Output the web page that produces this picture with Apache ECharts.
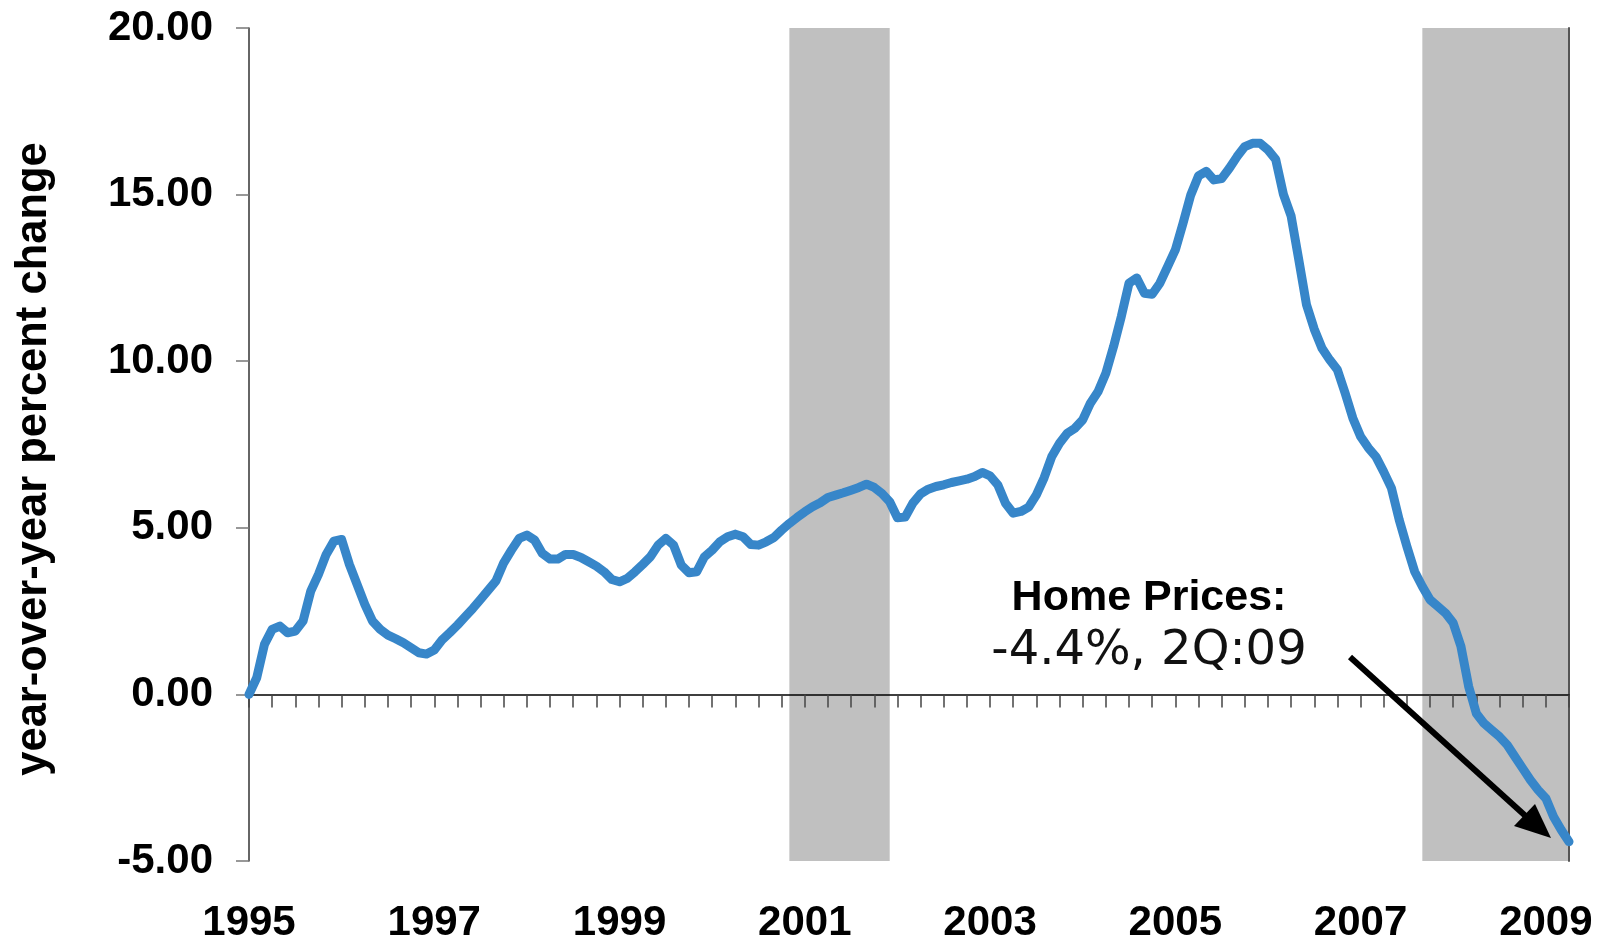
<!DOCTYPE html>
<html>
<head>
<meta charset="utf-8">
<script src="https://cdn.jsdelivr.net/npm/echarts@6/dist/echarts.min.js"></script>
<style>
  html, body { margin: 0; padding: 0; background: #fff; }
  #chart { width: 1602px; height: 946px; }
</style>
</head>
<body>
<div id="chart"></div>
<script>
// monthly, Jan 1995 .. Apr 2009
const startYear = 1995;
const hpiChange = [
  0.0, 0.5, 1.5, 1.95, 2.05, 1.85, 1.9, 2.2, 3.1, 3.6, 4.2, 4.6,
  4.65, 3.9, 3.3, 2.7, 2.2, 1.95, 1.78, 1.67, 1.55, 1.4, 1.25, 1.21,
  1.33, 1.63, 1.85, 2.08, 2.33, 2.58, 2.85, 3.13, 3.41, 3.95, 4.33, 4.68,
  4.78, 4.63, 4.23, 4.06, 4.06, 4.2, 4.2, 4.11, 3.98, 3.85, 3.68, 3.45,
  3.38, 3.48, 3.68, 3.9, 4.13, 4.48, 4.68, 4.48, 3.88, 3.65, 3.68, 4.13,
  4.33, 4.58, 4.73, 4.81, 4.73, 4.5, 4.48, 4.58, 4.71, 4.93, 5.13, 5.31,
  5.48, 5.63, 5.75, 5.91, 5.98, 6.05, 6.13, 6.21, 6.31, 6.21, 6.03, 5.78,
  5.3, 5.32, 5.74, 6.02, 6.16, 6.24, 6.29, 6.36, 6.41, 6.46, 6.54, 6.66,
  6.56, 6.29, 5.74, 5.44, 5.49, 5.62, 5.99, 6.5, 7.14, 7.54, 7.84, 7.99,
  8.24, 8.74, 9.09, 9.64, 10.44, 11.34, 12.34, 12.5, 12.04, 12.01, 12.34, 12.84,
  13.34, 14.14, 14.99, 15.56, 15.7, 15.44, 15.48, 15.79, 16.14, 16.44, 16.54, 16.54,
  16.34, 16.06, 15.01, 14.36, 13.04, 11.69, 10.96, 10.39, 10.04, 9.74, 9.04, 8.29,
  7.74, 7.4, 7.13, 6.68, 6.19, 5.24, 4.44, 3.69, 3.24, 2.84, 2.64, 2.44,
  2.14, 1.44, 0.24, -0.57, -0.87, -1.07, -1.27, -1.52, -1.87, -2.22, -2.57, -2.87,
  -3.12, -3.67, -4.07, -4.42
];
const months = [];
for (let i = 0; i < hpiChange.length; i++) {
  const y = startYear + Math.floor(i / 12);
  const m = (i % 12) + 1;
  months.push(y + '-' + (m < 10 ? '0' + m : m));
}
const recessions = [
  ['2000-11', '2001-12'],
  ['2007-09', '2009-04']
];
const yTitle = 'year-over-year percent change';
const noteTitle = 'Home Prices:';
const noteValue = '-4.4%, 2Q:09';

const chart = echarts.init(document.getElementById('chart'));

const yearLabel = {
  interval: (idx, val) => {
    const y = +val.slice(0, 4), m = val.slice(5);
    return m === '01' && (y - startYear) % 2 === 0;
  },
  formatter: (val) => val.slice(0, 4),
  color: '#000',
  fontFamily: 'Liberation Sans',
  fontWeight: 'bold',
  fontSize: 42
};

const option = {
  animation: false,
  grid: {
    left: 249, right: 33, top: 28, bottom: 85,
    containLabel: false,
    outerBoundsMode: 'none'
  },
  xAxis: [
    {
      // zero line with quarterly ticks, drawn over the shaded bands
      type: 'category',
      data: months,
      boundaryGap: false,
      z: 2,
      axisLine: { onZero: true, lineStyle: { color: '#000', width: 1.5 } },
      axisTick: {
        interval: 2,
        length: 13,
        lineStyle: { color: '#444', width: 1.5 }
      },
      axisLabel: { show: false },
      splitLine: { show: false }
    },
    {
      // year labels under the plot
      type: 'category',
      data: months,
      boundaryGap: false,
      position: 'bottom',
      axisLine: { show: false, onZero: false },
      axisTick: { show: false },
      axisLabel: Object.assign({ margin: 41 }, yearLabel),
      splitLine: { show: false }
    }
  ],
  yAxis: [
    {
      type: 'value',
      min: -5,
      max: 20,
      interval: 5,
      z: 2,
      axisLine: { show: true, lineStyle: { color: '#333', width: 1.5 } },
      axisTick: { show: true, length: 13, lineStyle: { color: '#777', width: 1.5 } },
      axisLabel: {
        formatter: (v) => v.toFixed(2),
        margin: 36,
        color: '#000',
        fontFamily: 'Liberation Sans',
        fontWeight: 'bold',
        fontSize: 42
      },
      splitLine: { show: false }
    },
    {
      type: 'value',
      position: 'right',
      min: -5,
      max: 20,
      interval: 5,
      z: 2,
      axisLine: { show: true, lineStyle: { color: '#555', width: 2 } },
      axisTick: { show: false },
      axisLabel: { show: false },
      splitLine: { show: false }
    }
  ],
  series: [
    {
      type: 'line',
      data: hpiChange,
      showSymbol: false,
      z: 3,
      lineStyle: { color: '#3786c9', width: 9, cap: 'round', join: 'round' },
      markArea: {
        silent: true,
        z: 1,
        itemStyle: { color: '#c0c0c0' },
        data: recessions.map(r => [{ xAxis: r[0], yAxis: 20 }, { xAxis: r[1], yAxis: -5 }])
      }
    }
  ],
  graphic: [
    {
      type: 'text',
      x: 34,
      y: 459,
      rotation: Math.PI / 2,
      style: {
        text: yTitle,
        font: 'bold 43.5px "Liberation Sans"',
        fill: '#000',
        align: 'center',
        verticalAlign: 'middle'
      }
    },
    {
      type: 'text',
      x: 1149,
      y: 598,
      style: {
        text: noteTitle,
        font: 'bold 43px "Liberation Sans"',
        fill: '#000',
        align: 'center',
        verticalAlign: 'middle'
      }
    },
    {
      type: 'text',
      x: 1149,
      y: 652,
      style: {
        text: noteValue,
        font: '48px "DejaVu Sans"',
        fill: '#111',
        align: 'center',
        verticalAlign: 'middle'
      }
    },
    {
      type: 'line',
      shape: { x1: 1350, y1: 657, x2: 1530, y2: 820 },
      style: { stroke: '#000', lineWidth: 6 },
      z: 10
    },
    {
      type: 'polygon',
      shape: { points: [[1551, 838], [1514, 826], [1535, 804]] },
      style: { fill: '#000' },
      z: 10
    }
  ]
};

chart.setOption(option);
</script>
</body>
</html>
